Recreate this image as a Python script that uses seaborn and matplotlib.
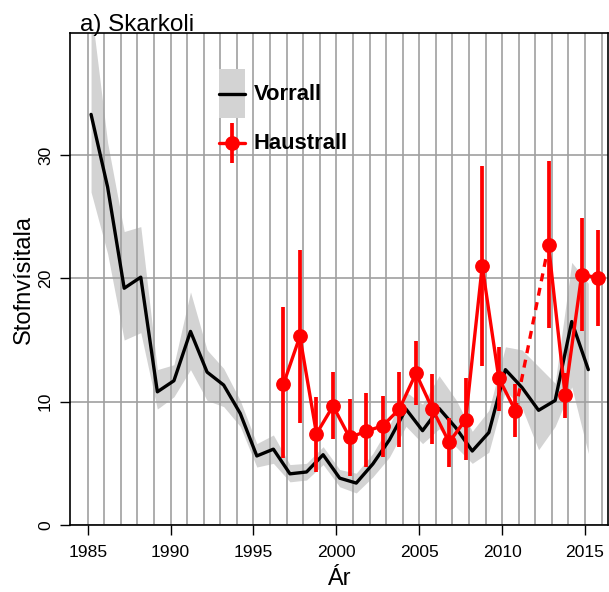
import numpy as np
import pandas as pd
import matplotlib
matplotlib.use("Agg")
import matplotlib.pyplot as plt
import seaborn as sns
from matplotlib.patches import Patch, Rectangle
from matplotlib.lines import Line2D
from matplotlib.legend_handler import HandlerBase

# ---------------- data ----------------
title_text = "a) Skarkoli"
xlabel_text = "Ár"
ylabel_text = "Stofnvísitala"
series_names = ["Vorrall", "Haustrall"]

spring_years = list(range(1985, 2016))
spring_index = [33.3, 27.4, 19.2, 20.1, 10.8, 11.7, 15.7, 12.4, 11.35, 9.05,
                5.6, 6.15, 4.15, 4.3, 5.7, 3.8, 3.4, 4.95, 6.9, 9.4,
                7.65, 9.45, 7.9, 6.0, 7.5, 12.6, 11.15, 9.3, 10.1, 16.5, 12.6]
spring_lower = [27.0, 22.0, 15.0, 15.6, 9.4, 10.4, 12.6, 10.1, 9.6, 8.0,
                4.7, 5.0, 3.5, 3.65, 4.9, 3.1, 2.6, 3.9, 5.5, 8.0,
                6.6, 7.8, 6.35, 5.0, 5.9, 10.9, 9.5, 6.1, 8.0, 11.2, 5.8]
spring_upper = [42.0, 31.0, 23.8, 24.2, 12.6, 13.0, 18.9, 14.2, 12.7, 10.1,
                6.6, 7.3, 4.9, 5.0, 6.35, 4.5, 4.2, 5.8, 8.1, 10.8,
                9.8, 12.1, 10.2, 7.6, 9.3, 14.45, 14.2, 12.85, 11.5, 21.3, 19.6]

autumn_years = [1996, 1997, 1998, 1999, 2000, 2001, 2002, 2003, 2004, 2005,
                2006, 2007, 2008, 2009, 2010, 2012, 2013, 2014, 2015]
autumn_index = [11.4, 15.3, 7.4, 9.65, 7.1, 7.6, 8.05, 9.4, 12.3, 9.4,
                6.7, 8.55, 21.0, 11.9, 9.27, 22.7, 10.55, 20.3, 20.05]
autumn_lower = [5.4, 8.25, 4.3, 7.0, 4.0, 4.7, 5.55, 6.35, 9.7, 6.6,
                4.7, 5.3, 12.9, 9.25, 7.15, 15.95, 8.65, 15.75, 16.1]
autumn_upper = [17.7, 22.3, 10.4, 12.4, 10.2, 10.7, 10.5, 12.4, 14.9, 12.25,
                8.65, 11.9, 29.1, 14.45, 11.45, 29.5, 12.3, 24.9, 23.9]

xtick_values = [1985, 1990, 1995, 2000, 2005, 2010, 2015]
ytick_values = [0, 10, 20, 30]

# survey timing within the year (March / October)
SPRING_OFFSET = 0.2
AUTUMN_OFFSET = 0.8

# ---------------- style ----------------
sns.set_theme(style="white")
plt.rcParams["font.family"] = ["Liberation Sans", "DejaVu Sans"]
plt.rcParams["text.color"] = "black"
plt.rcParams["axes.labelcolor"] = "black"
plt.rcParams["xtick.color"] = "black"
plt.rcParams["ytick.color"] = "black"

BAND = "#d3d3d3"
GRID = "#a0a0a0"
RED = "#ff0000"
LW_BLACK = 2.4
LW_RED = 2.4
LW_ERR = 2.7
MS = 9.6

fig = plt.figure(figsize=(6.09, 5.92), dpi=100)
ax = fig.add_axes([70 / 609, 1 - 525 / 592, (607.7 - 70) / 609, (525 - 33) / 592])

spring = pd.DataFrame({"year": np.array(spring_years) + SPRING_OFFSET,
                       "index": spring_index, "lo": spring_lower, "hi": spring_upper})
autumn = pd.DataFrame({"year": np.array(autumn_years) + AUTUMN_OFFSET,
                       "index": autumn_index, "lo": autumn_lower, "hi": autumn_upper})

# confidence band (spring)
ax.fill_between(spring["year"], spring["lo"], spring["hi"], color=BAND, lw=0, zorder=1)

# spring line
sns.lineplot(data=spring, x="year", y="index", color="black", lw=LW_BLACK,
             estimator=None, sort=False, ax=ax, zorder=3)

# autumn: solid runs of consecutive years, dashed over missing years
yrs = np.array(autumn_years)
run_id = np.concatenate([[0], np.cumsum(np.diff(yrs) > 1)])
autumn["run"] = run_id
sns.lineplot(data=autumn, x="year", y="index", units="run", estimator=None,
             color=RED, lw=LW_RED, sort=False, ax=ax, zorder=4)
gap_idx = np.where(np.diff(yrs) > 1)[0]
for i in gap_idx:
    seg = autumn.iloc[[i, i + 1]]
    sns.lineplot(data=seg, x="year", y="index", color=RED, lw=LW_RED,
                 linestyle=(0, (2.4, 2.0)), estimator=None, sort=False, ax=ax, zorder=4)

yerr = np.vstack([autumn["index"] - autumn["lo"], autumn["hi"] - autumn["index"]])
ax.errorbar(autumn["year"], autumn["index"], yerr=yerr, fmt="o", color=RED,
            ms=MS, elinewidth=LW_ERR, capsize=0, zorder=5)

# axes limits / ticks / grid
ax.set_xlim(1983.93, 2016.37)
ax.set_ylim(0, 39.9)
ax.set_xticks(xtick_values)
ax.set_xticklabels([str(v) for v in xtick_values])
ax.set_xticks(np.arange(1985, 2017), minor=True)
ax.set_yticks(ytick_values)
ax.set_yticklabels([str(v) for v in ytick_values], rotation=90, va="center")
ax.set_axisbelow("line")
ax.grid(True, which="both", axis="x", color=GRID, lw=1.2)
ax.grid(True, which="major", axis="y", color=GRID, lw=1.2)
ax.tick_params(axis="both", which="major", direction="out", length=7.2, width=1.0,
               color="black", labelsize=12.6, labelcolor="black", pad=5,
               bottom=True, left=True)
ax.tick_params(axis="x", which="major", pad=7)
ax.tick_params(axis="x", which="minor", length=0)
for s in ax.spines.values():
    s.set_color("black")
    s.set_linewidth(1.2)
    s.set_visible(True)

ax.set_xlabel(xlabel_text, fontsize=17, labelpad=6, color="black")
ax.set_ylabel(ylabel_text, fontsize=17, labelpad=2, color="black")
ax.text(10 / 537.7, 1 + 2 / 492, title_text, transform=ax.transAxes,
        fontsize=17.5, ha="left", va="baseline", color="black")


# legend handlers (centred in a tall handle box)
class BandLineHandler(HandlerBase):
    def create_artists(self, legend, orig_handle, xdescent, ydescent, width,
                       height, fontsize, trans):
        yc = height / 2 - ydescent
        r = Rectangle((-xdescent, -ydescent), width, height, facecolor=BAND,
                      edgecolor="none", transform=trans)
        ln = Line2D([-xdescent, -xdescent + width], [yc, yc], color="black",
                    lw=LW_BLACK, transform=trans)
        return [r, ln]


class PointErrHandler(HandlerBase):
    def create_artists(self, legend, orig_handle, xdescent, ydescent, width,
                       height, fontsize, trans):
        yc = height / 2 - ydescent
        xc = -xdescent + width / 2
        e = 14.4
        ln = Line2D([-xdescent, -xdescent + width], [yc, yc], color=RED,
                    lw=LW_RED, transform=trans)
        bar = Line2D([xc, xc], [yc - e, yc + e], color=RED, lw=LW_ERR,
                     solid_capstyle="butt", transform=trans)
        mk = Line2D([xc], [yc], color=RED, marker="o", ms=MS, ls="None",
                    transform=trans)
        return [ln, bar, mk]


h_spring = Patch(facecolor=BAND)
h_autumn = Line2D([], [], color=RED, marker="o")
leg = ax.legend([h_spring, h_autumn], series_names,
                handler_map={h_spring: BandLineHandler(), h_autumn: PointErrHandler()},
                loc="upper left", bbox_to_anchor=(0.2777, 0.9262), frameon=False,
                borderpad=0, borderaxespad=0, handlelength=1.18, handleheight=3.02,
                handletextpad=0.4, labelspacing=0.05,
                prop={"weight": "bold", "size": 15.8})
for t in leg.get_texts():
    t.set_color("black")

fig.savefig("out.png", dpi=100)
